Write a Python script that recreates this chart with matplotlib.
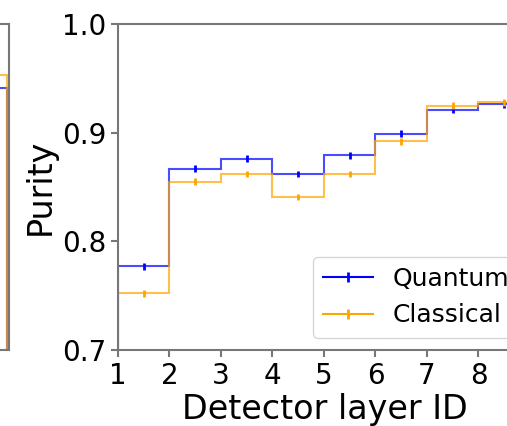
import numpy as np
import matplotlib
matplotlib.use("Agg")
import matplotlib.pyplot as plt

# bin edges / detector layers
layer_edges = [1, 2, 3, 4, 5, 6, 7, 8, 9]
layer_ticks = [1, 2, 3, 4, 5, 6, 7, 8]

# purity per layer
quantum = [0.777, 0.867, 0.876, 0.862, 0.879, 0.899, 0.921, 0.926]
classical = [0.752, 0.855, 0.862, 0.841, 0.862, 0.892, 0.925, 0.928]
quantum_err = [0.003, 0.003, 0.003, 0.003, 0.003, 0.003, 0.003, 0.003]
classical_err = [0.003, 0.003, 0.003, 0.003, 0.003, 0.003, 0.003, 0.003]

# last bin of the neighbouring panel (only part visible)
left_edges = [8, 9]
left_quantum = [0.941]
left_classical = [0.953]

W, H = 507, 426
fig = plt.figure(figsize=(W / 100, H / 100), dpi=100)

ax_w = 414 / W
ax_b = (426 - 350) / H
ax_h = 326 / H
ax = fig.add_axes([118 / W, ax_b, ax_w, ax_h])
ax_left = fig.add_axes([(9 - 414) / W, ax_b, ax_w, ax_h])

spine_col = "#777777"


def step_panel(a, edges, q, c, qerr=None, cerr=None, legend=False):
    centers = [(edges[i] + edges[i + 1]) / 2 for i in range(len(q))]
    for vals, err, col, lab in [(q, qerr, "blue", "Quantum"),
                                (c, cerr, "orange", "Classical")]:
        a.stairs(vals, edges, color=col, alpha=0.7, lw=1.5, baseline=0.0)
        if err is not None:
            a.errorbar(centers, vals, yerr=err, color=col, lw=1.5,
                       fmt="none", elinewidth=2)
            a.plot([], [], color=col, marker="|", ms=7, mew=2, lw=1.5,
                   label=lab)
    for s in a.spines.values():
        s.set_color(spine_col)
        s.set_linewidth(1.5)
    a.tick_params(colors=spine_col, labelcolor="black", width=1.5, length=5,
                  labelsize=20)


step_panel(ax, layer_edges, quantum, classical, quantum_err, classical_err)
ax.set_xlim(1, 9.04)
ax.set_ylim(0.7, 1.0)
ax.set_xticks(layer_ticks)
ax.set_yticks([0.7, 0.8, 0.9, 1.0])
ax.set_xlabel("Detector layer ID", fontsize=24, labelpad=2)
ax.set_ylabel("Purity", fontsize=24, labelpad=4)
ax.legend(loc="lower right", fontsize=18, handlelength=2.0)

step_panel(ax_left, left_edges, left_quantum, left_classical)
ax_left.set_xlim(1, 9.04)
ax_left.set_ylim(0.7, 1.0)
ax_left.set_xticks([])
ax_left.set_yticks([])

fig.savefig("out.png", dpi=100)
